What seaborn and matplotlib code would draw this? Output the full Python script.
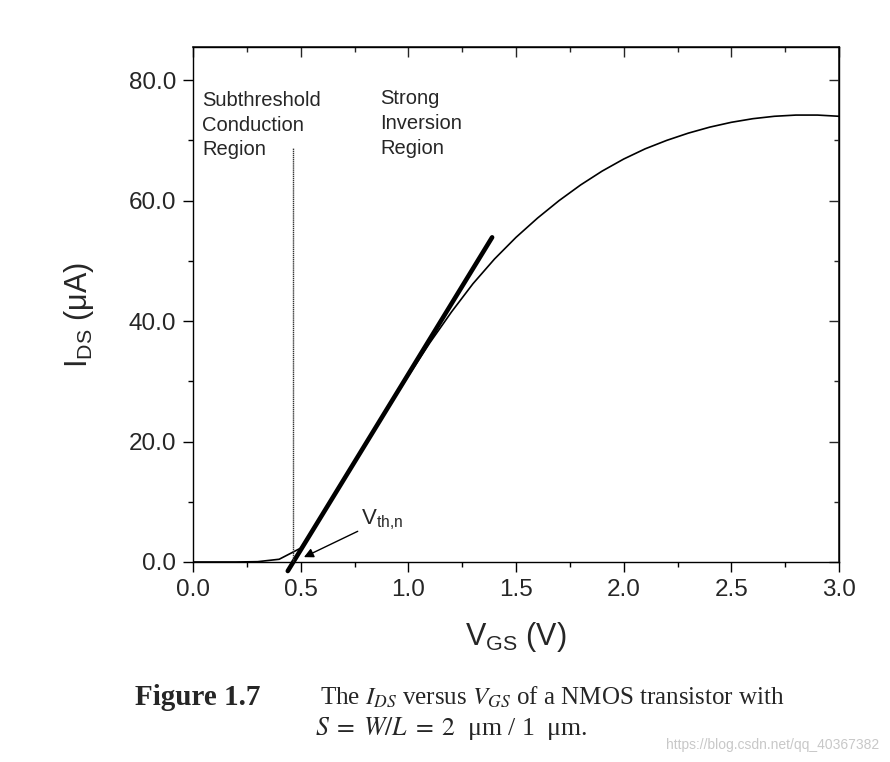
import matplotlib
matplotlib.use("Agg")
import matplotlib.pyplot as plt
import seaborn as sns
from matplotlib.ticker import MultipleLocator, FormatStrFormatter

# Courbe I_DS(V_GS)
vgs = [0.0, 0.1, 0.2, 0.3, 0.4, 0.5, 0.6, 0.7, 0.8, 0.9, 1.0, 1.1, 1.2, 1.3,
       1.4, 1.5, 1.6, 1.7, 1.8, 1.9, 2.0, 2.1, 2.2, 2.3, 2.4, 2.5, 2.6, 2.7,
       2.8, 2.9, 3.0]
ids = [0.0, 0.0, 0.0, 0.05, 0.45, 2.3, 7.8, 13.6, 19.4, 25.2, 30.9, 36.4,
       41.5, 46.2, 50.3, 53.9, 57.1, 60.0, 62.6, 64.9, 66.9, 68.6, 70.0, 71.2,
       72.2, 73.0, 73.6, 74.0, 74.2, 74.2, 74.0]

# Tangente (extrapolation de V_th)
tan_v = [0.44, 1.389]
tan_i = [-1.5, 53.9]

# Limite sous le seuil
vth_line_v = [0.464, 0.464]
vth_line_i = [0.0, 68.7]

sns.set_theme(style="ticks")
plt.rcParams["font.family"] = ["Liberation Sans", "DejaVu Sans"]

fig = plt.figure(figsize=(8.9, 7.62), dpi=100)
ax = fig.add_axes([0.2169, 0.2625, 0.7258, 0.6758])

sns.lineplot(x=vgs, y=ids, ax=ax, color="black", linewidth=1.2, sort=False)
sns.lineplot(x=tan_v, y=tan_i, ax=ax, color="black", linewidth=3.3, sort=False)
ax.lines[-1].set_clip_on(False)
ax.lines[-1].set_solid_capstyle("round")
ax.plot(vth_line_v, vth_line_i, color="#333333", linewidth=1.0, linestyle=(0, (1, 0.5)))

ax.set_xlim(0, 3.0)
ax.set_ylim(0, 85.5)

ax.xaxis.set_major_locator(MultipleLocator(0.5))
ax.xaxis.set_minor_locator(MultipleLocator(0.25))
ax.yaxis.set_major_locator(MultipleLocator(20))
ax.yaxis.set_minor_locator(MultipleLocator(10))
ax.xaxis.set_major_formatter(FormatStrFormatter("%.1f"))
ax.yaxis.set_major_formatter(FormatStrFormatter("%.1f"))

ax.tick_params(which="major", direction="out", length=7, width=1.0,
               labelsize=17.5, pad=5, color="black")
ax.tick_params(which="minor", direction="out", length=3.8, width=1.0, color="black")
for s in ax.spines.values():
    s.set_linewidth(1.0)
    s.set_color("black")

# Graduations intérieures en haut et à droite
top = ax.secondary_xaxis("top")
top.xaxis.set_major_locator(MultipleLocator(0.5))
top.xaxis.set_minor_locator(MultipleLocator(0.25))
top.tick_params(which="major", direction="in", length=7, width=1.0, labeltop=False)
top.tick_params(which="minor", direction="in", length=3.8, width=1.0)
right = ax.secondary_yaxis("right")
right.yaxis.set_major_locator(MultipleLocator(20))
right.yaxis.set_minor_locator(MultipleLocator(10))
right.tick_params(which="major", direction="in", length=7, width=1.0, labelright=False)
right.tick_params(which="minor", direction="in", length=3.8, width=1.0)

ax.set_xlabel(r"$\mathregular{V_{GS}}$ (V)", fontsize=22, labelpad=14)
ax.set_ylabel(r"$\mathregular{I_{DS}}$ ($\mathregular{\mu}$A)", fontsize=22, labelpad=24)
ax.yaxis.label.set_y(0.48)

ax.text(0.042, 78.2, "Subthreshold\nConduction\nRegion", fontsize=14.5,
        va="top", ha="left", linespacing=1.38)
ax.text(0.868, 78.5, "Strong\nInversion\nRegion", fontsize=14.5,
        va="top", ha="left", linespacing=1.38)

ax.annotate(r"$\mathregular{V_{th{,}n}}$", xy=(0.515, 0.8), xytext=(0.78, 5.0),
            fontsize=16, va="bottom", ha="left",
            arrowprops=dict(arrowstyle="-|>", color="black", lw=1.0,
                            shrinkA=0, shrinkB=0, mutation_scale=14),
            annotation_clip=False)

# Légende de la figure
fig.text(0.152, 0.085, "Figure 1.7", fontsize=21, fontweight="bold",
         family="Liberation Serif", va="center", ha="left")
fig.text(0.359, 0.085, r"The $I_{DS}$ versus $V_{GS}$ of a NMOS transistor with",
         fontsize=18, family="Liberation Serif", math_fontfamily="stix",
         va="center", ha="left")
fig.text(0.354, 0.044, r"$S\;=\;W/L\;=\;2$  μm / 1  μm.", fontsize=18.5,
         family="Liberation Serif", math_fontfamily="stix",
         va="center", ha="left")
fig.text(0.988, 0.022, "https://blog.csdn.net/qq_40367382", fontsize=10,
         color="#c8c8c8", ha="right", va="center")

fig.savefig("out.png", dpi=100)
